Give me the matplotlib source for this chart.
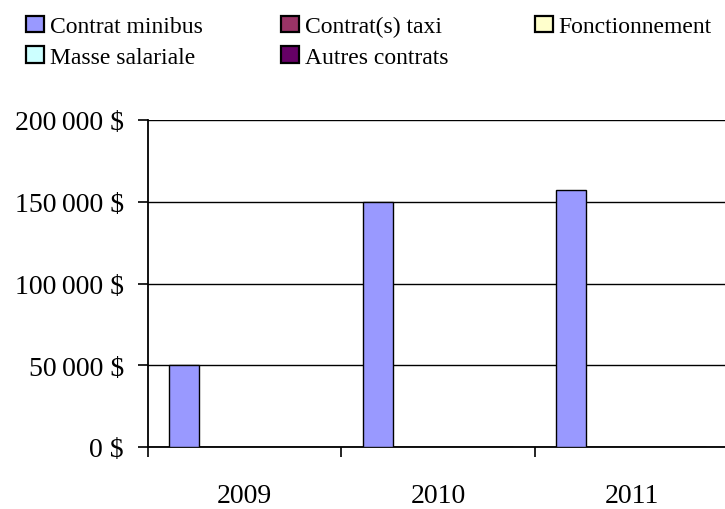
import numpy as np
import matplotlib
matplotlib.use("Agg")
from matplotlib import pyplot as plt
from matplotlib.patches import Patch
from matplotlib.ticker import FuncFormatter, FixedLocator

plt.rcParams['font.family'] = ['Liberation Serif', 'DejaVu Serif']

years = ['2009', '2010', '2011']
series_names = ['Contrat minibus', 'Contrat(s) taxi', 'Fonctionnement',
                'Masse salariale', 'Autres contrats']
series_colors = ['#9999FF', '#993366', '#FFFFCC', '#CCFFFF', '#660066']

contrat_minibus = [50000, 150000, 157000]
contrat_taxi = [0, 0, 0]
fonctionnement = [0, 0, 0]
masse_salariale = [0, 0, 0]
autres_contrats = [0, 0, 0]
series_values = [contrat_minibus, contrat_taxi, fonctionnement,
                 masse_salariale, autres_contrats]

fig = plt.figure(figsize=(7.25, 5.10), dpi=100)
ax = fig.add_axes([147.7 / 725, 62 / 510, 580.5 / 725, 327 / 510])

bar_w = 0.155
centers = np.arange(len(years)) + 0.5
for i, (name, vals, col) in enumerate(zip(series_names, series_values, series_colors)):
    ax.bar(centers + (i - 2) * bar_w, vals, width=bar_w, color=col,
           edgecolor='black', linewidth=1.0, label=name, zorder=3)

ax.set_xlim(0, 3)
ax.set_ylim(0, 200000)

# horizontal grid lines
ax.yaxis.set_major_locator(FixedLocator([0, 50000, 100000, 150000, 200000]))
ax.grid(axis='y', color='black', linewidth=1.0, zorder=1)
ax.set_axisbelow(True)


def money(v, pos):
    s = f"{int(v):,}".replace(',', '\u2009')
    return s + ' $'


ax.yaxis.set_major_formatter(FuncFormatter(money))
ax.tick_params(axis='y', which='major', length=7, width=1.2, direction='out',
               pad=10, labelsize=20)

# category boundaries as ticks, labels in the middle
ax.xaxis.set_major_locator(FixedLocator([0, 1, 2, 3]))
ax.xaxis.set_major_formatter(FuncFormatter(lambda v, p: ''))
ax.xaxis.set_minor_locator(FixedLocator(centers))
ax.set_xticklabels(years, minor=True)
ax.tick_params(axis='x', which='major', length=7, width=1.2, direction='out')
ax.tick_params(axis='x', which='minor', length=0, pad=26, labelsize=20)

for s in ['top', 'right']:
    ax.spines[s].set_visible(False)
ax.spines['left'].set_linewidth(1.3)
ax.spines['bottom'].set_linewidth(1.3)

# legend in three columns: (minibus, masse) (taxi, autres) (fonctionnement)
columns = [[0, 3], [1, 4], [2]]
col_x = [26, 281, 535]
for idx, x0 in zip(columns, col_x):
    proxies = [Patch(facecolor=series_colors[k], edgecolor='black', linewidth=1.6)
               for k in idx]
    fig.legend(proxies, [series_names[k] for k in idx],
               loc='upper left', bbox_to_anchor=(x0 / 725, 1 - 16.5 / 510),
               frameon=False, fontsize=17, borderpad=0, borderaxespad=0,
               handlelength=0.75, handleheight=0.72, handletextpad=0.25,
               labelspacing=0.37)

plt.savefig("out.png", dpi=100)
